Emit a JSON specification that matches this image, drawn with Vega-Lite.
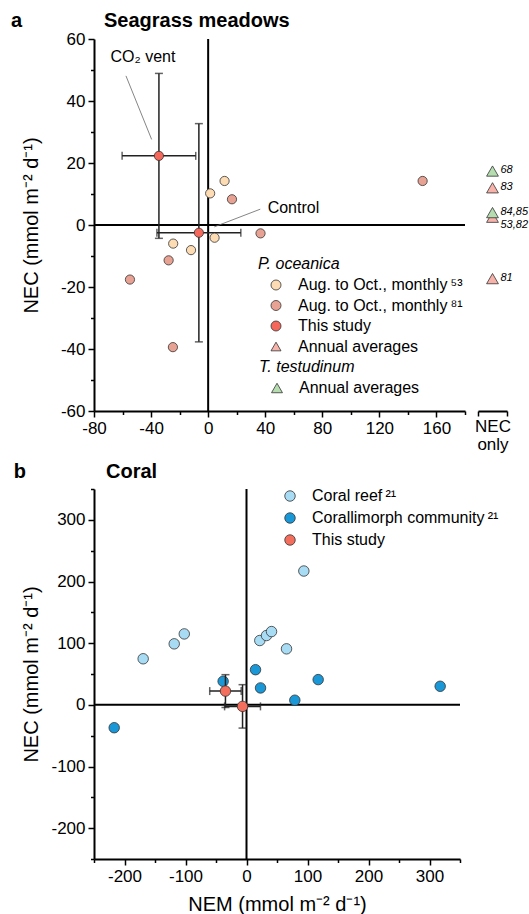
{
  "$schema": "https://vega.github.io/schema/vega-lite/v6.json",
  "padding": {"left": 10, "top": 11, "right": 2, "bottom": 2},
  "config": {
    "font": "Liberation Sans",
    "view": {"stroke": null},
    "locale": {"number": {"decimal": ".", "thousands": ",", "grouping": [3], "currency": ["$", ""], "minus": "-"}},
    "axis": {"grid": false, "tickCount": 60, "labelOverlap": false, "labelFlush": false, "domainColor": "black", "domainWidth": 2, "tickColor": "black", "tickWidth": 1.5, "labelFontSize": 17, "labelColor": "black", "labelPadding": 3, "titleFontSize": 20, "titleFontWeight": "normal", "titleColor": "black"},
    "legend": {"padding": 0, "labelFontSize": 16, "labelColor": "black", "labelLimit": 0, "titleFontSize": 16, "titleColor": "black", "titleFontWeight": "normal", "titleFontStyle": "italic", "symbolStrokeColor": "#333", "symbolStrokeWidth": 0.8, "symbolSize": 100},
    "text": {"color": "black"}
  },
  "datasets": {
    "sgPoints": [
      {"series": "Aug. to Oct., monthly\u2009\u2075\u00b3", "nem": 1.4, "nec": 10.2},
      {"series": "Aug. to Oct., monthly\u2009\u2075\u00b3", "nem": 11.5, "nec": 14.2},
      {"series": "Aug. to Oct., monthly\u2009\u2075\u00b3", "nem": 4.5, "nec": -4.1},
      {"series": "Aug. to Oct., monthly\u2009\u2075\u00b3", "nem": -24.5, "nec": -6.0},
      {"series": "Aug. to Oct., monthly\u2009\u2075\u00b3", "nem": -12.0, "nec": -8.1},
      {"series": "Aug. to Oct., monthly\u2009\u2078\u00b9", "nem": 16.7, "nec": 8.3},
      {"series": "Aug. to Oct., monthly\u2009\u2078\u00b9", "nem": 36.7, "nec": -2.7},
      {"series": "Aug. to Oct., monthly\u2009\u2078\u00b9", "nem": -27.7, "nec": -11.4},
      {"series": "Aug. to Oct., monthly\u2009\u2078\u00b9", "nem": -54.8, "nec": -17.6},
      {"series": "Aug. to Oct., monthly\u2009\u2078\u00b9", "nem": -24.7, "nec": -39.4},
      {"series": "Aug. to Oct., monthly\u2009\u2078\u00b9", "nem": 150.3, "nec": 14.2},
      {"series": "This study", "nem": -34.5, "nec": 22.3},
      {"series": "This study", "nem": -6.5, "nec": -2.5}
    ],
    "err": [
      {"site": "CO2 vent", "nem": -34.5, "nec": 22.3, "nem_lo": -60.3, "nem_hi": -8.7, "nec_lo": -4.3, "nec_hi": 48.9},
      {"site": "Control", "nem": -6.5, "nec": -2.5, "nem_lo": -35.9, "nem_hi": 22.9, "nec_lo": -37.7, "nec_hi": 32.7}
    ],
    "necOnly": [
      {"species": "T. testudinum", "nec": 17.4, "ref": "68"},
      {"species": "P. oceanica", "nec": 12.0, "ref": "83"},
      {"species": "P. oceanica", "nec": 2.5, "ref": "53,82"},
      {"species": "T. testudinum", "nec": 4.0, "ref": "84,85"},
      {"species": "P. oceanica", "nec": -17.3, "ref": "81"}
    ],
    "coral": [
      {"series": "Coral reef\u2009\u00b2\u00b9", "nem": 94, "nec": 217},
      {"series": "Coral reef\u2009\u00b2\u00b9", "nem": -102, "nec": 115},
      {"series": "Coral reef\u2009\u00b2\u00b9", "nem": -118.5, "nec": 98.9},
      {"series": "Coral reef\u2009\u00b2\u00b9", "nem": 21.8, "nec": 104.3},
      {"series": "Coral reef\u2009\u00b2\u00b9", "nem": 32.8, "nec": 112.4},
      {"series": "Coral reef\u2009\u00b2\u00b9", "nem": 41, "nec": 118.8},
      {"series": "Coral reef\u2009\u00b2\u00b9", "nem": 65.6, "nec": 90.8},
      {"series": "Coral reef\u2009\u00b2\u00b9", "nem": -169.4, "nec": 74.7},
      {"series": "Corallimorph community\u2009\u00b2\u00b9", "nem": 14.8, "nec": 57},
      {"series": "Corallimorph community\u2009\u00b2\u00b9", "nem": -38.3, "nec": 38.2},
      {"series": "Corallimorph community\u2009\u00b2\u00b9", "nem": 23, "nec": 27.4},
      {"series": "Corallimorph community\u2009\u00b2\u00b9", "nem": 117.5, "nec": 40.9},
      {"series": "Corallimorph community\u2009\u00b2\u00b9", "nem": 79.2, "nec": 7.5},
      {"series": "Corallimorph community\u2009\u00b2\u00b9", "nem": 317.5, "nec": 30.1},
      {"series": "Corallimorph community\u2009\u00b2\u00b9", "nem": -216.9, "nec": -37.1},
      {"series": "This study", "nem": -34.5, "nec": 22.3},
      {"series": "This study", "nem": -6.5, "nec": -2.5}
    ]
  },
  "bounds": "flush",
  "align": "each",
  "columns": 2,
  "spacing": {"row": 78, "column": 13},
  "resolve": {"scale": {"color": "independent", "shape": "independent"}, "legend": {"color": "independent", "shape": "independent"}},
  "concat": [
    {
      "width": 371,
      "height": 372,
      "layer": [
        {
          "data": {"values": [{"v": 0}]},
          "mark": {"type": "rule", "color": "black", "strokeWidth": 2},
          "encoding": {
            "x": {"field": "v", "type": "quantitative", "scale": {"domain": [-80, 180], "nice": false, "zero": false},
              "axis": {"title": null, "tickCount": 60, "values": [-80, -60, -40, -20, 0, 20, 40, 60, 80, 100, 120, 140, 160, 180], "labelExpr": "datum.value % 40 === 0 ? datum.label : ''", "tickSize": {"condition": {"test": "datum.value % 40 === 0", "value": 6}, "value": 3.5}}}
          }
        },
        {
          "data": {"values": [{"v": 0}]},
          "mark": {"type": "rule", "color": "black", "strokeWidth": 2},
          "encoding": {
            "y": {"field": "v", "type": "quantitative", "scale": {"domain": [-60, 60], "nice": false, "zero": false},
              "axis": {"title": "NEC (mmol m\u207b\u00b2 d\u207b\u00b9)", "tickCount": 60, "titleX": -63, "titleBaseline": "middle", "values": [-60, -50, -40, -30, -20, -10, 0, 10, 20, 30, 40, 50, 60], "labelExpr": "datum.value % 20 === 0 ? datum.label : ''", "tickSize": {"condition": {"test": "datum.value % 20 === 0", "value": 6}, "value": 3.5}}}
          }
        },
        {
          "data": {"name": "err"},
          "mark": {"type": "errorbar", "color": "#222", "thickness": 1.5, "ticks": {"size": 8, "thickness": 1.5}},
          "encoding": {
            "x": {"field": "nem_lo", "type": "quantitative", "title": null},
            "x2": {"field": "nem_hi"},
            "y": {"field": "nec", "type": "quantitative", "title": "NEC (mmol m\u207b\u00b2 d\u207b\u00b9)"}
          }
        },
        {
          "data": {"name": "err"},
          "mark": {"type": "errorbar", "color": "#222", "thickness": 1.5, "ticks": {"size": 8, "thickness": 1.5}},
          "encoding": {
            "x": {"field": "nem", "type": "quantitative", "title": null},
            "y": {"field": "nec_lo", "type": "quantitative", "title": "NEC (mmol m\u207b\u00b2 d\u207b\u00b9)"},
            "y2": {"field": "nec_hi"}
          }
        },
        {
          "data": {"values": [{}]},
          "mark": {"type": "rule", "color": "#666", "strokeWidth": 0.8},
          "encoding": {
            "x": {"datum": -57.6, "type": "quantitative"}, "y": {"datum": 48.1, "type": "quantitative"},
            "x2": {"datum": -39.6}, "y2": {"datum": 27.6}
          }
        },
        {
          "data": {"values": [{}]},
          "mark": {"type": "rule", "color": "#666", "strokeWidth": 0.8},
          "encoding": {
            "x": {"datum": 36.5, "type": "quantitative"}, "y": {"datum": 5.1, "type": "quantitative"},
            "x2": {"datum": 4.3}, "y2": {"datum": -0.6}
          }
        },
        {
          "data": {"values": [{}]},
          "mark": {"type": "text", "text": "CO\u2082 vent", "fontSize": 16, "align": "center", "baseline": "middle"},
          "encoding": {"x": {"datum": -45.7, "type": "quantitative"}, "y": {"datum": 54.2, "type": "quantitative"}}
        },
        {
          "data": {"values": [{}]},
          "mark": {"type": "text", "text": "Control", "fontSize": 16, "align": "left", "baseline": "middle"},
          "encoding": {"x": {"datum": 41.7, "type": "quantitative"}, "y": {"datum": 5.6, "type": "quantitative"}}
        },
        {
          "data": {"name": "sgPoints"},
          "mark": {"type": "point", "filled": true, "size": 85, "stroke": "#333", "strokeWidth": 0.8, "opacity": 1},
          "encoding": {
            "x": {"field": "nem", "type": "quantitative"},
            "y": {"field": "nec", "type": "quantitative"},
            "color": {"field": "series", "type": "nominal",
              "scale": {"domain": ["Aug. to Oct., monthly\u2009\u2075\u00b3", "Aug. to Oct., monthly\u2009\u2078\u00b9", "This study", "Annual averages"], "range": ["#FDDCB4", "#E8A293", "#F5675A", "#F7B2AA"]},
              "legend": {"orient": "none", "legendX": 164, "legendY": 217, "title": "P. oceanica", "titlePadding": 5, "symbolOffset": 10, "labelOffset": 14, "rowPadding": 4.5}},
            "shape": {"field": "series", "type": "nominal",
              "scale": {"domain": ["Aug. to Oct., monthly\u2009\u2075\u00b3", "Aug. to Oct., monthly\u2009\u2078\u00b9", "This study", "Annual averages"], "range": ["circle", "circle", "circle", "triangle-up"]},
              "legend": {"orient": "none", "legendX": 164, "legendY": 217, "title": "P. oceanica", "titlePadding": 5, "symbolOffset": 10, "labelOffset": 14, "rowPadding": 4.5}}
          }
        },
        {
          "data": {"values": [{}]},
          "mark": {"type": "text", "text": "a", "fontSize": 20, "fontWeight": "bold", "align": "left", "baseline": "middle"},
          "encoding": {"x": {"datum": -138.2, "type": "quantitative"}, "y": {"datum": 65.8, "type": "quantitative"}}
        },
        {
          "data": {"values": [{}]},
          "mark": {"type": "text", "text": "Seagrass meadows", "fontSize": 20, "fontWeight": "bold", "align": "left", "baseline": "middle"},
          "encoding": {"x": {"datum": -73, "type": "quantitative"}, "y": {"datum": 65.8, "type": "quantitative"}}
        }
      ]
    },
    {
      "width": 29,
      "height": 372,
      "data": {"name": "necOnly"},
      "layer": [
        {
          "mark": {"type": "point", "filled": true, "shape": "triangle-up", "size": 140, "stroke": "#333", "strokeWidth": 0.8, "opacity": 1},
          "encoding": {
            "x": {"datum": 0.5, "type": "quantitative", "scale": {"domain": [0, 1], "nice": false, "zero": false},
              "axis": {"values": [0, 1], "labels": false, "tickSize": 5, "title": ["NEC", "only"], "titleFontSize": 17, "titlePadding": 2, "titleLineHeight": 18}},
            "y": {"field": "nec", "type": "quantitative", "scale": {"domain": [-60, 60], "nice": false, "zero": false}, "axis": null},
            "color": {"field": "species", "type": "nominal",
              "scale": {"domain": ["P. oceanica", "T. testudinum"], "range": ["#F7B2AA", "#B5DDAF"]},
              "legend": {"orient": "none", "legendX": -219, "legendY": 320, "title": "T. testudinum", "values": ["T. testudinum"], "labelExpr": "'Annual averages'", "symbolType": "triangle-up", "symbolSize": 120, "titlePadding": 5, "symbolOffset": 10, "labelOffset": 14}}
          }
        },
        {
          "transform": [{"filter": "datum.ref !== '53,82'"}],
          "mark": {"type": "text", "align": "left", "baseline": "middle", "dx": 8, "dy": -1, "fontStyle": "italic", "fontSize": 11},
          "encoding": {
            "x": {"datum": 0.5, "type": "quantitative"},
            "y": {"field": "nec", "type": "quantitative"},
            "text": {"field": "ref"}
          }
        },
        {
          "transform": [{"filter": "datum.ref === '53,82'"}],
          "mark": {"type": "text", "align": "left", "baseline": "middle", "dx": 8, "dy": 8, "fontStyle": "italic", "fontSize": 11},
          "encoding": {
            "x": {"datum": 0.5, "type": "quantitative"},
            "y": {"field": "nec", "type": "quantitative"},
            "text": {"field": "ref"}
          }
        }
      ]
    },
    {
      "width": 366,
      "height": 370,
      "layer": [
        {
          "data": {"values": [{"v": 0}]},
          "mark": {"type": "rule", "color": "black", "strokeWidth": 2},
          "encoding": {
            "x": {"field": "v", "type": "quantitative", "scale": {"domain": [-250, 350], "nice": false, "zero": false},
              "axis": {"title": "NEM (mmol m\u207b\u00b2 d\u207b\u00b9)", "tickCount": 60, "titlePadding": 10, "values": [-250, -200, -150, -100, -50, 0, 50, 100, 150, 200, 250, 300, 350], "labelExpr": "datum.value % 100 === 0 ? datum.label : ''", "tickSize": {"condition": {"test": "datum.value % 100 === 0", "value": 6}, "value": 3.5}}}
          }
        },
        {
          "data": {"values": [{"v": 0}]},
          "mark": {"type": "rule", "color": "black", "strokeWidth": 2},
          "encoding": {
            "y": {"field": "v", "type": "quantitative", "scale": {"domain": [-250, 350], "nice": false, "zero": false},
              "axis": {"title": "NEC (mmol m\u207b\u00b2 d\u207b\u00b9)", "tickCount": 60, "titleX": -63, "titleBaseline": "middle", "values": [-250, -200, -150, -100, -50, 0, 50, 100, 150, 200, 250, 300, 350], "labelExpr": "datum.value % 100 === 0 ? datum.label : ''", "tickSize": {"condition": {"test": "datum.value % 100 === 0", "value": 6}, "value": 3.5}}}
          }
        },
        {
          "data": {"name": "coral"},
          "transform": [{"filter": "datum.series !== 'This study'"}],
          "mark": {"type": "point", "filled": true, "size": 110, "stroke": "#333", "strokeWidth": 0.8, "opacity": 1},
          "encoding": {
            "x": {"field": "nem", "type": "quantitative"},
            "y": {"field": "nec", "type": "quantitative"},
            "color": {"field": "series", "type": "nominal",
              "scale": {"domain": ["Coral reef\u2009\u00b2\u00b9", "Corallimorph community\u2009\u00b2\u00b9", "This study"], "range": ["#A8DCF4", "#1A97D6", "#F36E5D"]},
              "legend": {"orient": "none", "legendX": 188, "legendY": -1, "title": null, "labelOffset": 14, "rowPadding": 6, "symbolSize": 110}}
          }
        },
        {
          "data": {"name": "err"},
          "mark": {"type": "errorbar", "color": "#222", "thickness": 1.5, "ticks": {"size": 8, "thickness": 1.5}},
          "encoding": {
            "x": {"field": "nem_lo", "type": "quantitative", "title": "NEM (mmol m\u207b\u00b2 d\u207b\u00b9)"},
            "x2": {"field": "nem_hi"},
            "y": {"field": "nec", "type": "quantitative", "title": "NEC (mmol m\u207b\u00b2 d\u207b\u00b9)"}
          }
        },
        {
          "data": {"name": "err"},
          "mark": {"type": "errorbar", "color": "#222", "thickness": 1.5, "ticks": {"size": 8, "thickness": 1.5}},
          "encoding": {
            "x": {"field": "nem", "type": "quantitative", "title": "NEM (mmol m\u207b\u00b2 d\u207b\u00b9)"},
            "y": {"field": "nec_lo", "type": "quantitative", "title": "NEC (mmol m\u207b\u00b2 d\u207b\u00b9)"},
            "y2": {"field": "nec_hi"}
          }
        },
        {
          "data": {"name": "coral"},
          "transform": [{"filter": "datum.series === 'This study'"}],
          "mark": {"type": "point", "filled": true, "size": 110, "stroke": "#333", "strokeWidth": 0.8, "opacity": 1},
          "encoding": {
            "x": {"field": "nem", "type": "quantitative"},
            "y": {"field": "nec", "type": "quantitative"},
            "color": {"field": "series", "type": "nominal"}
          }
        },
        {
          "data": {"values": [{}]},
          "mark": {"type": "text", "text": "b", "fontSize": 20, "fontWeight": "bold", "align": "left", "baseline": "middle"},
          "encoding": {"x": {"datum": -381.6, "type": "quantitative"}, "y": {"datum": 377.6, "type": "quantitative"}}
        },
        {
          "data": {"values": [{}]},
          "mark": {"type": "text", "text": "Coral", "fontSize": 20, "fontWeight": "bold", "align": "left", "baseline": "middle"},
          "encoding": {"x": {"datum": -230.3, "type": "quantitative"}, "y": {"datum": 377.6, "type": "quantitative"}}
        }
      ]
    }
  ]
}
